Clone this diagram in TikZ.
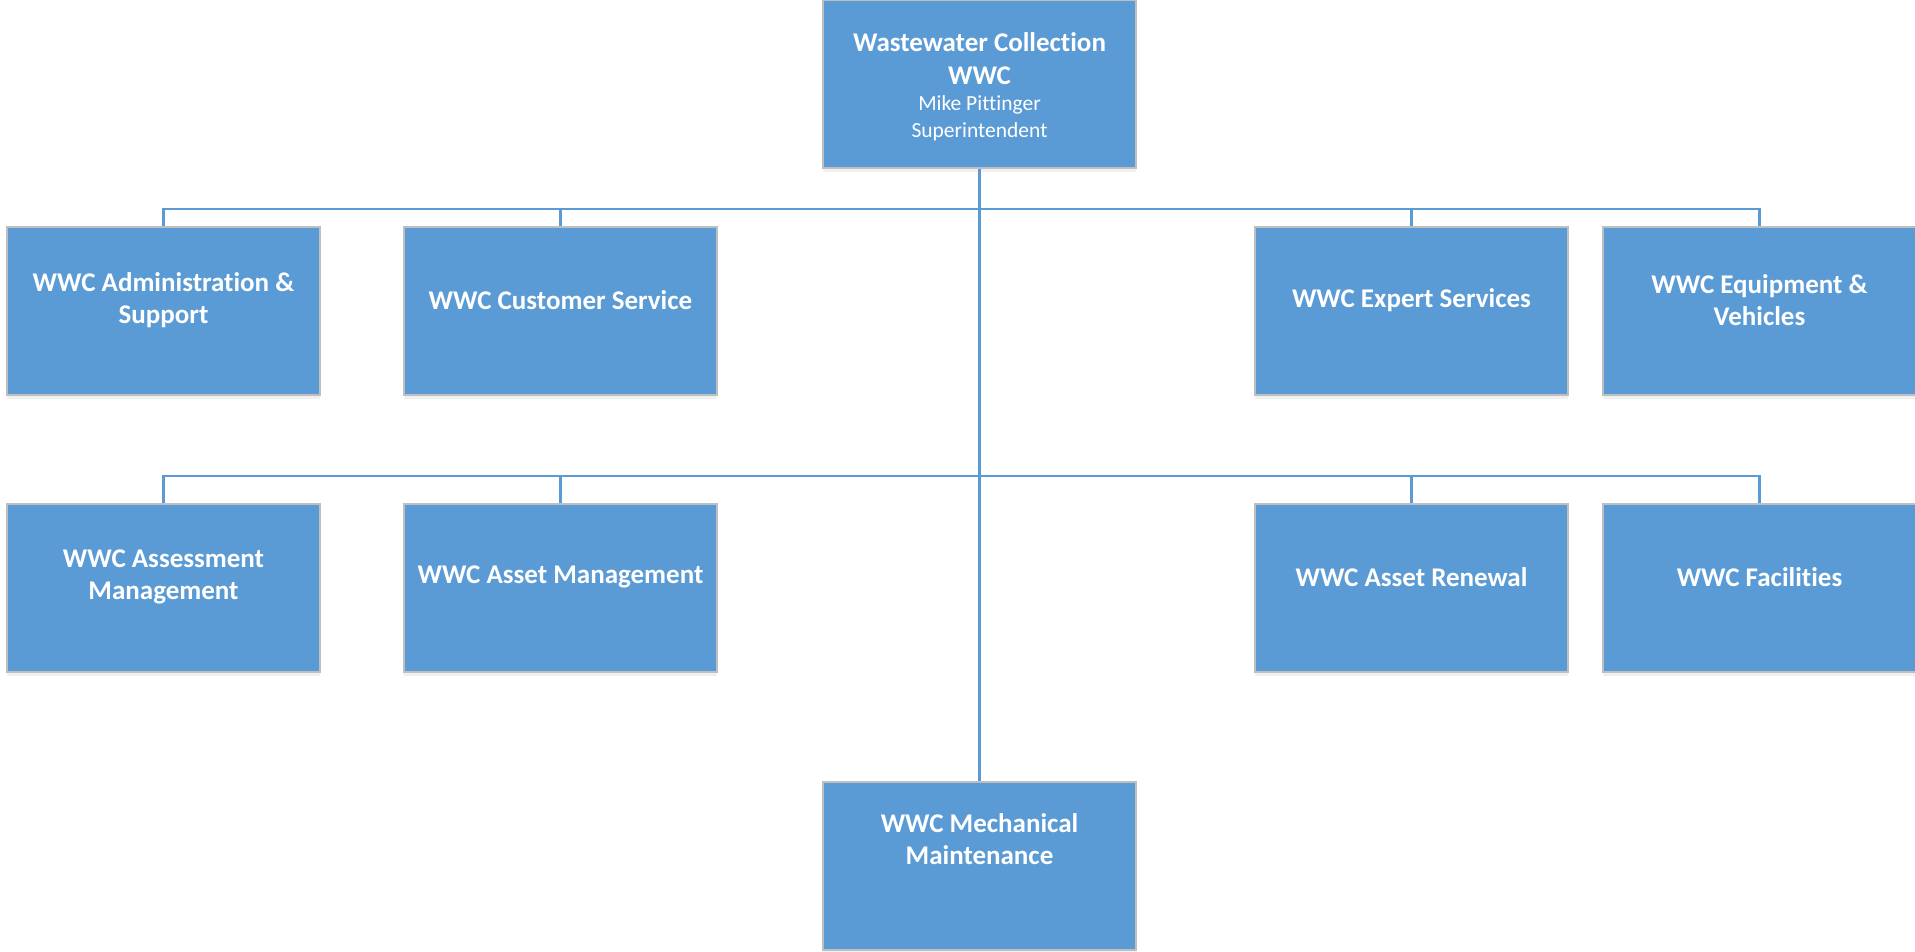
\documentclass[tikz,border=0pt]{standalone}
\usepackage{fontspec}
\setmainfont[Ligatures=NoCommon]{Carlito}
\usetikzlibrary{shadows}
\definecolor{boxblue}{HTML}{5B9BD5}
\definecolor{boxgray}{HTML}{BFBFBF}
\definecolor{lineblue}{HTML}{5B9BD5}
\tikzset{
  orgbox/.style={draw=boxgray, line width=2pt, fill=boxblue, minimum width=313pt, minimum height=168pt, inner sep=0pt,
    drop shadow={opacity=0.12, shadow xshift=0pt, shadow yshift=-4pt}},
  lbl/.style={text=white, align=center, font=\fontsize{27}{32.5}\selectfont\bfseries, inner sep=0pt},
  conn/.style={draw=lineblue, line width=2.2pt}
}
\begin{document}
\begin{tikzpicture}[x=1pt,y=-1pt]
\useasboundingbox (0,0) rectangle (1915,952);
% bus coordinates
\coordinate (b1) at (980,209);
\coordinate (b2) at (980,476);
% boxes
\node[orgbox] (top) at (979.5,84) {};
\node[orgbox] (adm) at (163.5,311) {};
\node[orgbox] (cus) at (560.5,311) {};
\node[orgbox] (exp) at (1411.5,311) {};
\node[orgbox] (equ) at (1759.5,311) {};
\node[orgbox] (ass) at (163.5,588) {};
\node[orgbox] (am) at (560.5,588) {};
\node[orgbox] (ar) at (1411.5,588) {};
\node[orgbox] (fac) at (1759.5,588) {};
\node[orgbox] (mech) at (979.5,866) {};
% connectors
\draw[conn] (top.south) -- (mech.north);
\draw[conn] (adm.north) |- (equ.north |- b1) -- (equ.north);
\draw[conn] (cus.north) -- (cus.north |- b1);
\draw[conn] (exp.north) -- (exp.north |- b1);
\draw[conn] (ass.north) |- (fac.north |- b2) -- (fac.north);
\draw[conn] (am.north) -- (am.north |- b2);
\draw[conn] (ar.north) -- (ar.north |- b2);
% labels
\node[lbl] (topT) at (979.5,87) {Wastewater Collection\\WWC\\[-6pt]{\fontsize{21.5}{26}\selectfont\mdseries Mike Pittinger}\\[-6pt]{\fontsize{21.5}{26}\selectfont\mdseries Superintendent}};
\node[lbl] (admT) at (163.5,300) {WWC Administration \&\\Support};
\node[lbl] (cusT) at (560.5,300) {WWC Customer Service};
\node[lbl] (expT) at (1411.5,300) {WWC Expert Services};
\node[lbl] (equT) at (1759.5,300) {WWC Equipment \&\\Vehicles};
\node[lbl] (assT) at (163.5,577) {WWC Assessment\\Management};
\node[lbl] (amT) at (560.5,577) {WWC Asset Management};
\node[lbl] (arT) at (1411.5,577) {WWC Asset Renewal};
\node[lbl] (facT) at (1759.5,577) {WWC Facilities};
\node[lbl] (mechT) at (979.5,839) {WWC Mechanical\\Maintenance};
\end{tikzpicture}
\end{document}
